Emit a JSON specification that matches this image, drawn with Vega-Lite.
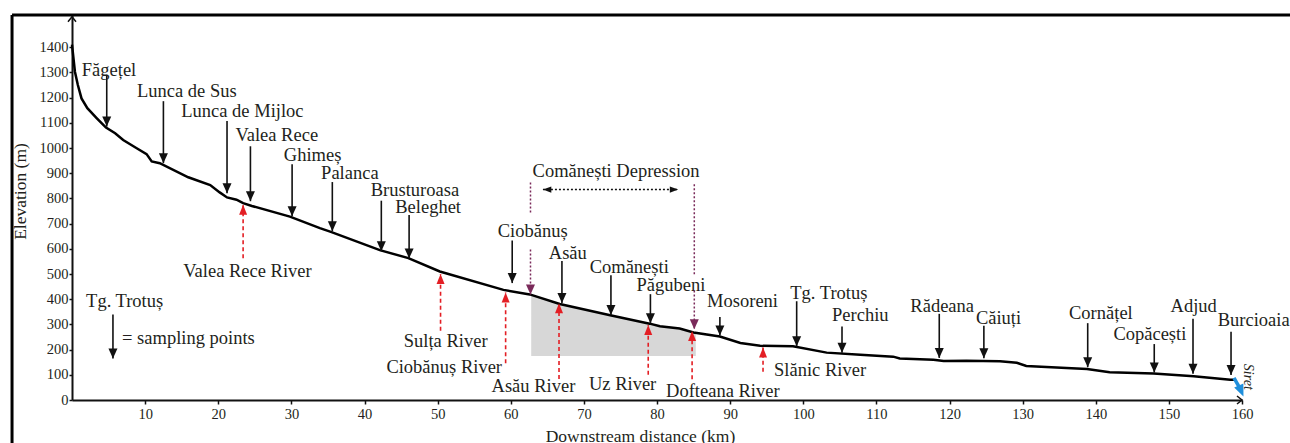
{
  "$schema": "https://vega.github.io/schema/vega-lite/v6.json",
  "width": 1170,
  "height": 385,
  "autosize": "none",
  "padding": {"left": 72, "top": 15, "right": 48, "bottom": 43},
  "background": "white",
  "config": {
    "view": {"stroke": null},
    "font": "Liberation Serif",
    "axis": {
      "grid": false, "labelFlush": false, "labelOverlap": false,
      "domainColor": "#111", "domainWidth": 2,
      "tickColor": "#111", "tickWidth": 1.5,
      "labelFont": "Liberation Serif", "labelFontSize": 14.5, "labelColor": "#231f20",
      "titleFont": "Liberation Serif", "titleFontSize": 17.5, "titleFontWeight": "normal", "titleColor": "#231f20"
    },
    "axisX": {"tickSize": 4, "labelPadding": 3, "titleX": 568, "titleY": 41, "titleAlign": "center", "titleBaseline": "alphabetic"},
    "axisY": {"tickSize": 3, "labelPadding": 1, "titleX": -52, "titleY": 176, "titleAngle": -90, "titleAlign": "center", "titleBaseline": "middle"}
  },
  "datasets": {
    "profile": [
      {"km": 0, "elev": 1410}, {"km": 0.4, "elev": 1303}, {"km": 0.8, "elev": 1250}, {"km": 1.3, "elev": 1197},
      {"km": 2.1, "elev": 1158}, {"km": 3.4, "elev": 1118}, {"km": 4.65, "elev": 1081}, {"km": 5.9, "elev": 1059},
      {"km": 7.0, "elev": 1032}, {"km": 8.85, "elev": 999}, {"km": 10.2, "elev": 976}, {"km": 10.9, "elev": 947},
      {"km": 12.0, "elev": 940}, {"km": 15.9, "elev": 884}, {"km": 18.9, "elev": 853}, {"km": 20.2, "elev": 824},
      {"km": 21.2, "elev": 804}, {"km": 22.5, "elev": 795}, {"km": 23.4, "elev": 781}, {"km": 24.6, "elev": 770},
      {"km": 29.8, "elev": 728}, {"km": 33.9, "elev": 682}, {"km": 35.4, "elev": 667}, {"km": 42.1, "elev": 595},
      {"km": 46.0, "elev": 563}, {"km": 50.3, "elev": 510}, {"km": 59.0, "elev": 437}, {"km": 62.6, "elev": 419},
      {"km": 66.7, "elev": 381}, {"km": 73.6, "elev": 336}, {"km": 79.0, "elev": 303}, {"km": 80.4, "elev": 293},
      {"km": 83.1, "elev": 284}, {"km": 85.0, "elev": 268}, {"km": 88.6, "elev": 252}, {"km": 91.4, "elev": 226},
      {"km": 94.1, "elev": 215}, {"km": 98.6, "elev": 213}, {"km": 103.2, "elev": 188}, {"km": 107.8, "elev": 180},
      {"km": 112.3, "elev": 172}, {"km": 113.2, "elev": 165}, {"km": 117.8, "elev": 160}, {"km": 119.2, "elev": 155},
      {"km": 122.3, "elev": 156}, {"km": 126.9, "elev": 154}, {"km": 129.2, "elev": 148}, {"km": 130.5, "elev": 135},
      {"km": 136.0, "elev": 127}, {"km": 138.8, "elev": 123}, {"km": 141.9, "elev": 110}, {"km": 147.9, "elev": 105},
      {"km": 153.4, "elev": 94}, {"km": 158.4, "elev": 80}, {"km": 159.0, "elev": 80}
    ],
    "shade": [
      {"km": 62.8, "elev": 419}, {"km": 66.7, "elev": 381}, {"km": 73.6, "elev": 336}, {"km": 79.0, "elev": 303},
      {"km": 80.4, "elev": 293}, {"km": 83.1, "elev": 284}, {"km": 85.3, "elev": 266}
    ],
    "samples": [
      {"name": "Făgețel", "km": 4.75, "elev": 1291, "tip": 1085, "lkm": 5.06, "lel": 1311},
      {"name": "Lunca de Sus", "km": 12.5, "elev": 1186, "tip": 940, "lkm": 15.7, "lel": 1228},
      {"name": "Lunca de Mijloc", "km": 21.2, "elev": 1107, "tip": 821, "lkm": 23.3, "lel": 1147},
      {"name": "Valea Rece", "km": 24.4, "elev": 1007, "tip": 789, "lkm": 28.0, "lel": 1050},
      {"name": "Ghimeș", "km": 30.1, "elev": 936, "tip": 729, "lkm": 32.9, "lel": 971},
      {"name": "Palanca", "km": 35.6, "elev": 865, "tip": 670, "lkm": 38.0, "lel": 899},
      {"name": "Brusturoasa", "km": 42.3, "elev": 791, "tip": 590, "lkm": 46.9, "lel": 835},
      {"name": "Beleghet", "km": 46.1, "elev": 734, "tip": 562, "lkm": 48.7, "lel": 765},
      {"name": "Ciobănuș", "km": 60.2, "elev": 633, "tip": 464, "lkm": 63.0, "lel": 670},
      {"name": "Asău", "km": 67.0, "elev": 552, "tip": 385, "lkm": 67.8, "lel": 583},
      {"name": "Comănești", "km": 73.7, "elev": 495, "tip": 337, "lkm": 76.2, "lel": 529},
      {"name": "Păgubeni", "km": 79.1, "elev": 420, "tip": 305, "lkm": 81.9, "lel": 458},
      {"name": "Mosoreni", "km": 88.6, "elev": 329, "tip": 256, "lkm": 91.7, "lel": 393},
      {"name": "Tg. Trotuș", "km": 99.1, "elev": 392, "tip": 213, "lkm": 103.5, "lel": 425},
      {"name": "Perchiu", "km": 105.3, "elev": 292, "tip": 188, "lkm": 107.8, "lel": 338},
      {"name": "Rădeana", "km": 118.6, "elev": 342, "tip": 167, "lkm": 119.0, "lel": 375},
      {"name": "Căiuți", "km": 124.7, "elev": 295, "tip": 166, "lkm": 126.7, "lel": 325},
      {"name": "Cornățel", "km": 138.9, "elev": 305, "tip": 130, "lkm": 140.7, "lel": 345},
      {"name": "Copăcești", "km": 148.0, "elev": 222, "tip": 109, "lkm": 147.4, "lel": 260},
      {"name": "Adjud", "km": 153.3, "elev": 322, "tip": 104, "lkm": 153.4, "lel": 375},
      {"name": "Burcioaia", "km": 158.5, "elev": 271, "tip": 99, "lkm": 161.6, "lel": 317},
      {"name": "Tg. Trotuș", "km": 5.6, "elev": 339, "tip": 165, "lkm": 7.2, "lel": 392}
    ],
    "rivers": [
      {"name": "Valea Rece River", "km": 23.4, "elev": 563, "tip": 775, "lkm": 24.0, "lel": 511},
      {"name": "Sulța River", "km": 50.4, "elev": 275, "tip": 500, "lkm": 51.1, "lel": 236},
      {"name": "Ciobănuș River", "km": 59.3, "elev": 146, "tip": 427, "lkm": 50.9, "lel": 130},
      {"name": "Asău River", "km": 66.6, "elev": 83, "tip": 384, "lkm": 63.1, "lel": 55},
      {"name": "Uz River", "km": 78.8, "elev": 100, "tip": 298, "lkm": 75.3, "lel": 62},
      {"name": "Dofteana River", "km": 84.8, "elev": 82, "tip": 274, "lkm": 89.0, "lel": 35},
      {"name": "Slănic River", "km": 94.5, "elev": 112, "tip": 208, "lkm": 102.3, "lel": 121}
    ],
    "bounds": [
      {"km": 62.7, "elev": 863, "end": 744, "head": false},
      {"km": 62.7, "elev": 597, "end": 419, "head": true},
      {"km": 85.1, "elev": 856, "end": 499, "head": false},
      {"km": 85.1, "elev": 435, "end": 281, "head": true}
    ]
  },
  "encoding": {
    "x": {
      "field": "km", "type": "quantitative",
      "scale": {"domain": [0, 160], "nice": false, "zero": false},
      "axis": {
        "title": "Downstream distance (km)",
        "values": [10, 20, 30, 40, 50, 60, 70, 80, 90, 100, 110, 120, 130, 140, 150, 160],
        "format": "d"
      }
    },
    "y": {
      "field": "elev", "type": "quantitative",
      "scale": {"domain": [0, 1528], "nice": false, "zero": false},
      "axis": {
        "title": "Elevation (m)",
        "values": [0, 100, 200, 300, 400, 500, 600, 700, 800, 900, 1000, 1100, 1200, 1300, 1400],
        "format": "d"
      }
    }
  },
  "layer": [
    {
      "data": {"values": [
        {"km": -8.2, "km2": 166.6, "elev": 1528, "elev2": 1528},
        {"km": -8.2, "km2": -8.2, "elev": 1528, "elev2": -171}
      ]},
      "mark": {"type": "rule", "strokeWidth": 3, "color": "#000", "clip": false},
      "encoding": {"x2": {"field": "km2"}, "y2": {"field": "elev2"}}
    },
    {
      "data": {"name": "shade"},
      "mark": {"type": "area", "color": "#d7d7d7", "opacity": 1},
      "encoding": {"y2": {"datum": 175}}
    },
    {
      "data": {"name": "profile"},
      "mark": {"type": "line", "color": "#000", "strokeWidth": 2.5},
      "encoding": {}
    },
    {
      "data": {"name": "samples"},
      "mark": {"type": "rule", "color": "#111", "strokeWidth": 1.6},
      "encoding": {"y2": {"field": "tip"}}
    },
    {
      "data": {"name": "samples"},
      "mark": {"type": "point", "shape": "M -0.9 -2 L 0.9 -2 L 0 0 Z", "size": 100, "filled": true, "color": "#111", "opacity": 1, "strokeWidth": 0},
      "encoding": {"y": {"field": "tip", "type": "quantitative", "scale": {"domain": [0, 1528], "nice": false, "zero": false}}}
    },
    {
      "data": {"name": "samples"},
      "mark": {"type": "text", "font": "Liberation Serif", "fontSize": 18.5, "color": "#231f20", "align": "center", "baseline": "middle", "clip": false},
      "encoding": {
        "x": {"field": "lkm", "type": "quantitative", "scale": {"domain": [0, 160], "nice": false, "zero": false}},
        "y": {"field": "lel", "type": "quantitative", "scale": {"domain": [0, 1528], "nice": false, "zero": false}},
        "text": {"field": "name"}
      }
    },
    {
      "data": {"name": "rivers"},
      "mark": {"type": "rule", "color": "#e31e24", "strokeWidth": 1.6, "strokeDash": [4, 3]},
      "encoding": {"y2": {"field": "tip"}}
    },
    {
      "data": {"name": "rivers"},
      "mark": {"type": "point", "shape": "M -0.8 2 L 0.8 2 L 0 0 Z", "size": 100, "filled": true, "color": "#e31e24", "opacity": 1, "strokeWidth": 0},
      "encoding": {"y": {"field": "tip", "type": "quantitative", "scale": {"domain": [0, 1528], "nice": false, "zero": false}}}
    },
    {
      "data": {"name": "rivers"},
      "mark": {"type": "text", "font": "Liberation Serif", "fontSize": 18.5, "color": "#231f20", "align": "center", "baseline": "middle"},
      "encoding": {
        "x": {"field": "lkm", "type": "quantitative", "scale": {"domain": [0, 160], "nice": false, "zero": false}},
        "y": {"field": "lel", "type": "quantitative", "scale": {"domain": [0, 1528], "nice": false, "zero": false}},
        "text": {"field": "name"}
      }
    },
    {
      "data": {"name": "bounds"},
      "mark": {"type": "rule", "color": "#7a2a5a", "strokeWidth": 1.5, "strokeDash": [2, 2]},
      "encoding": {"y2": {"field": "end"}}
    },
    {
      "data": {"name": "bounds"},
      "transform": [{"filter": "datum.head"}],
      "mark": {"type": "point", "shape": "M -0.9 -2 L 0.9 -2 L 0 0 Z", "size": 100, "filled": true, "color": "#7a2a5a", "opacity": 1, "strokeWidth": 0},
      "encoding": {"y": {"field": "end", "type": "quantitative", "scale": {"domain": [0, 1528], "nice": false, "zero": false}}}
    },
    {
      "data": {"values": [{"km": 64.4, "km2": 82.9, "elev": 835}]},
      "mark": {"type": "rule", "color": "#111", "strokeWidth": 1.5, "strokeDash": [2, 2]},
      "encoding": {"x2": {"field": "km2"}}
    },
    {
      "data": {"values": [{"km": 64.4, "elev": 835}]},
      "mark": {"type": "point", "shape": "M 2.4 -0.9 L 2.4 0.9 L 0 0 Z", "size": 49, "filled": true, "color": "#111", "opacity": 1, "strokeWidth": 0},
      "encoding": {}
    },
    {
      "data": {"values": [{"km": 82.9, "elev": 835}]},
      "mark": {"type": "point", "shape": "M -2.4 -0.9 L -2.4 0.9 L 0 0 Z", "size": 49, "filled": true, "color": "#111", "opacity": 1, "strokeWidth": 0},
      "encoding": {}
    },
    {
      "data": {"values": [{"label": "Comănești Depression", "km": 74.4, "elev": 908}]},
      "mark": {"type": "text", "font": "Liberation Serif", "fontSize": 18.5, "color": "#231f20", "align": "center", "baseline": "middle"},
      "encoding": {"text": {"field": "label"}}
    },
    {
      "data": {"values": [{"label": "= sampling points", "km": 6.84, "elev": 247}]},
      "mark": {"type": "text", "font": "Liberation Serif", "fontSize": 18.5, "color": "#231f20", "align": "left", "baseline": "middle"},
      "encoding": {"text": {"field": "label"}}
    },
    {
      "data": {"values": [{"km": 158.9, "elev": 88, "km2": 159.8, "elev2": 42}]},
      "mark": {"type": "rule", "color": "#1f8fdc", "strokeWidth": 3.5, "clip": false},
      "encoding": {"x2": {"field": "km2"}, "y2": {"field": "elev2"}}
    },
    {
      "data": {"values": [{"km": 160.2, "elev": 14}]},
      "mark": {"type": "point", "shape": "M -1 -2.4 L 1 -2.4 L 0 0 Z", "size": 100, "angle": -23, "filled": true, "color": "#1f8fdc", "opacity": 1, "strokeWidth": 0, "clip": false},
      "encoding": {}
    },
    {
      "data": {"values": [{"label": "Siret", "km": 160.8, "elev": 92}]},
      "mark": {"type": "text", "font": "Liberation Serif", "fontSize": 14, "fontStyle": "italic", "angle": 90, "color": "#231f20", "align": "center", "baseline": "middle", "clip": false},
      "encoding": {"text": {"field": "label"}}
    },
    {
      "data": {"values": [{"km": 0, "elev": 1521}]},
      "mark": {"type": "point", "shape": "M -1.6 2 L 0 0 L 1.6 2", "size": 25, "filled": false, "color": "#111", "strokeWidth": 1.5, "opacity": 1},
      "encoding": {}
    },
    {
      "data": {"values": [{"km": 160, "elev": 0}]},
      "mark": {"type": "point", "shape": "M -2 -1.6 L 0 0 L -2 1.6", "size": 25, "filled": false, "color": "#111", "strokeWidth": 1.5, "opacity": 1, "clip": false},
      "encoding": {}
    }
  ]
}
